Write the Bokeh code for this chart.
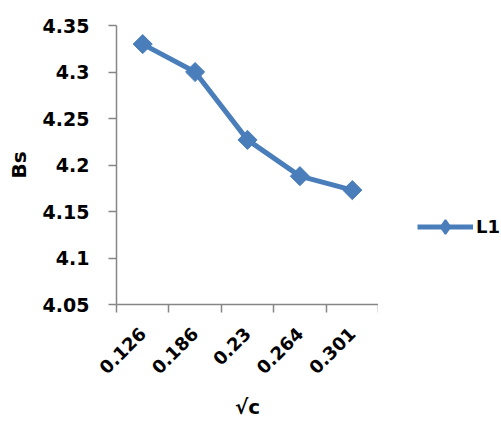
import numpy as np
from bokeh.plotting import figure
from bokeh.layouts import row
from bokeh.models import (Range1d, FixedTicker, NumeralTickFormatter, Legend,
                          LegendItem)
from bokeh.embed import file_html
from bokeh.resources import INLINE

# ---- data ----
categories = ["0.126", "0.186", "0.23", "0.264", "0.301"]
bs_values = [4.33, 4.30, 4.227, 4.188, 4.173]
y_ticks = [4.05, 4.10, 4.15, 4.20, 4.25, 4.30, 4.35]
series_name = "L1"
x_title = "√c"
y_title = "Bs"

# ---- styling / layout ----
FONT = "DejaVu Sans"
BLUE = "#4a7ebb"
AXIS_GRAY = "#868686"
W, H = 501, 421
LEFT, TOP, BOTTOM = 116, 25, 117
MAIN_W = 378
LEG_W = W - MAIN_W

x_pos = list(range(1, len(categories) + 1))
boundaries = [x - 0.5 for x in x_pos] + [x_pos[-1] + 0.5]

p = figure(width=MAIN_W, height=H, output_backend="svg", toolbar_location=None,
           x_range=Range1d(boundaries[0], boundaries[-1]),
           y_range=Range1d(y_ticks[0], y_ticks[-1]),
           min_border_left=LEFT, min_border_right=0,
           min_border_top=TOP, min_border_bottom=BOTTOM)
p.outline_line_color = None
p.grid.visible = False
p.background_fill_color = "white"
p.border_fill_color = "white"

line = p.line(x_pos, bs_values, line_color=BLUE, line_width=5, line_join="round")
pts = p.scatter(x_pos, bs_values, marker="square", size=13.5, angle=np.pi / 4,
                fill_color=BLUE, line_color=BLUE)

# x axis
xa = p.xaxis[0]
xa.ticker = FixedTicker(ticks=x_pos, minor_ticks=boundaries)
xa.major_label_overrides = {x: c for x, c in zip(x_pos, categories)}
xa.major_tick_in = 0
xa.major_tick_out = 0
xa.minor_tick_in = 0
xa.minor_tick_out = 8
xa.minor_tick_line_color = AXIS_GRAY
xa.minor_tick_line_width = 1.5
xa.axis_line_color = AXIS_GRAY
xa.axis_line_width = 1.5
xa.major_label_orientation = np.pi / 4
xa.major_label_text_font = FONT
xa.major_label_text_font_style = "bold"
xa.major_label_text_font_size = "18px"
xa.major_label_text_color = "black"
xa.major_label_standoff = 18
xa.axis_label = x_title
xa.axis_label_text_font = FONT
xa.axis_label_text_font_style = "bold"
xa.axis_label_text_font_size = "20px"
xa.axis_label_text_color = "black"
xa.axis_label_standoff = 12

# y axis
ya = p.yaxis[0]
ya.ticker = FixedTicker(ticks=y_ticks, minor_ticks=[])
ya.formatter = NumeralTickFormatter(format="0.[00]")
ya.major_tick_in = 0
ya.major_tick_out = 8
ya.major_tick_line_color = AXIS_GRAY
ya.major_tick_line_width = 1.5
ya.axis_line_color = AXIS_GRAY
ya.axis_line_width = 1.5
ya.major_label_text_font = FONT
ya.major_label_text_font_style = "bold"
ya.major_label_text_font_size = "19px"
ya.major_label_text_color = "black"
ya.major_label_standoff = 19
ya.axis_label = y_title
ya.axis_label_text_font = FONT
ya.axis_label_text_font_style = "bold"
ya.axis_label_text_font_size = "20px"
ya.axis_label_text_color = "black"
ya.axis_label_standoff = 9

# ---- legend panel (right of the plot) ----
q = figure(width=LEG_W, height=H, output_backend="svg", toolbar_location=None,
           x_range=Range1d(0, 1), y_range=Range1d(0, 1),
           min_border=0)
q.axis.visible = False
q.grid.visible = False
q.outline_line_color = None
q.background_fill_color = "white"
q.border_fill_color = "white"
key_line = q.line(x_pos, bs_values, line_color=BLUE, line_width=5, visible=False)
key_mark = q.scatter(x_pos, bs_values, marker="diamond", size=14, line_width=2,
                     fill_color=BLUE, line_color=BLUE, visible=False)

legend = Legend(items=[LegendItem(label=series_name, renderers=[key_line, key_mark])],
                location=(39, 60), orientation="vertical",
                glyph_width=56, glyph_height=35, label_standoff=3,
                padding=0, margin=0, border_line_color=None,
                background_fill_alpha=0,
                label_text_font=FONT, label_text_font_style="bold",
                label_text_font_size="18px", label_text_color="black")
q.add_layout(legend)

layout = row(p, q, spacing=0)
open("out.html", "w").write(file_html(layout, INLINE))
